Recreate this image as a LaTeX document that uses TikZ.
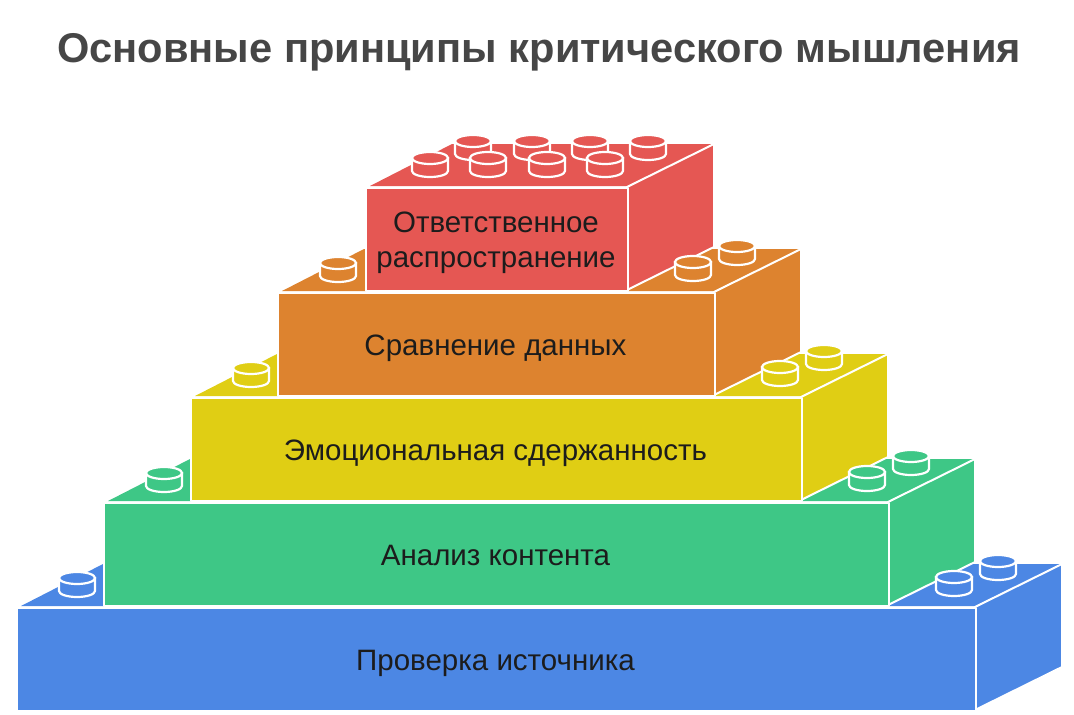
\documentclass[tikz,border=0pt]{standalone}
\usepackage{fontspec}
\setmainfont{Liberation Sans}
\usetikzlibrary{positioning}
\usepackage{xcolor}
\definecolor{brickblue}{HTML}{4C87E4}
\definecolor{brickgreen}{HTML}{3EC786}
\definecolor{brickyellow}{HTML}{E0CE14}
\definecolor{brickorange}{HTML}{DD832F}
\definecolor{brickred}{HTML}{E55753}
\definecolor{titlegrey}{HTML}{464646}
\definecolor{labelgrey}{HTML}{1C1C1C}
\tikzset{
  face/.style={draw=white,line width=2pt,line join=round},
  front/.style={face,inner sep=0pt},
  bricklabel/.style={text=labelgrey,font=\fontsize{29.5}{35}\selectfont,align=center},
  stud/.style={draw=white,line width=2.2pt}
}
% one stud: colour, centre x, centre y of its top
\newcommand{\studat}[3]{
  \draw[stud,fill=#1] (#2-18,#3) -- (#2-18,#3+13) arc[start angle=180,end angle=0,x radius=18,y radius=6] -- (#2+18,#3) -- cycle;
  \draw[stud,fill=#1] (#2,#3) ellipse[x radius=18,y radius=6];
}
\begin{document}
\begin{tikzpicture}[x=1pt,y=-1pt]
  \useasboundingbox (0,0) rectangle (1074,715);
  \node [font=\fontsize{41.6}{48}\selectfont\bfseries,text=titlegrey] (title) at (539,52) {Основные принципы критического мышления};

  % bricks, from the bottom up
  \foreach \name/\col/\xl/\xr/\yt/\txt in {
    blue/brickblue/16/975/607/{Проверка источника},
    green/brickgreen/103/888/502/{\vphantom{р}Анализ контента},
    yellow/brickyellow/190/801/397/{Эмоциональная сдержанность},
    orange/brickorange/277/714/292/{Сравнение данных},
    red/brickred/365/627/187/{Ответственное\\распространение}} {
    \fill[\col] (\xl+5,\yt-1) -- (\xl+87,\yt-43) -- (\xr+87,\yt-43) -- (\xr,\yt-1) -- cycle;
    \draw[face,fill=\col] (\xr,\yt) -- (\xr+87,\yt-43) -- (\xr+87,\yt+60) -- (\xr,\yt+103) -- cycle;
    \node [front,fill=\col,minimum width=\xr-\xl,minimum height=103,anchor=north west] (\name) at (\xl,\yt) {};
    \node [bricklabel,xshift=-1pt,yshift=-3.5pt] (\name label) at (\name.center) {\txt};
  }

  % studs
  \foreach \col/\xa/\xb/\xc/\dy in {
    brickblue/77/998/954/0,
    brickgreen/164/911/867/-105,
    brickyellow/251/824/780/-210,
    brickorange/338/737/693/-315} {
    \studat{\col}{\xa}{578+\dy}
    \studat{\col}{\xb}{561+\dy}
    \studat{\col}{\xc}{577+\dy}
  }
  \foreach \x in {473,532,590,648} {
    \studat{brickred}{\x}{141}
  }
  \foreach \x in {430,488,547,605} {
    \studat{brickred}{\x}{158}
  }
\end{tikzpicture}
\end{document}
